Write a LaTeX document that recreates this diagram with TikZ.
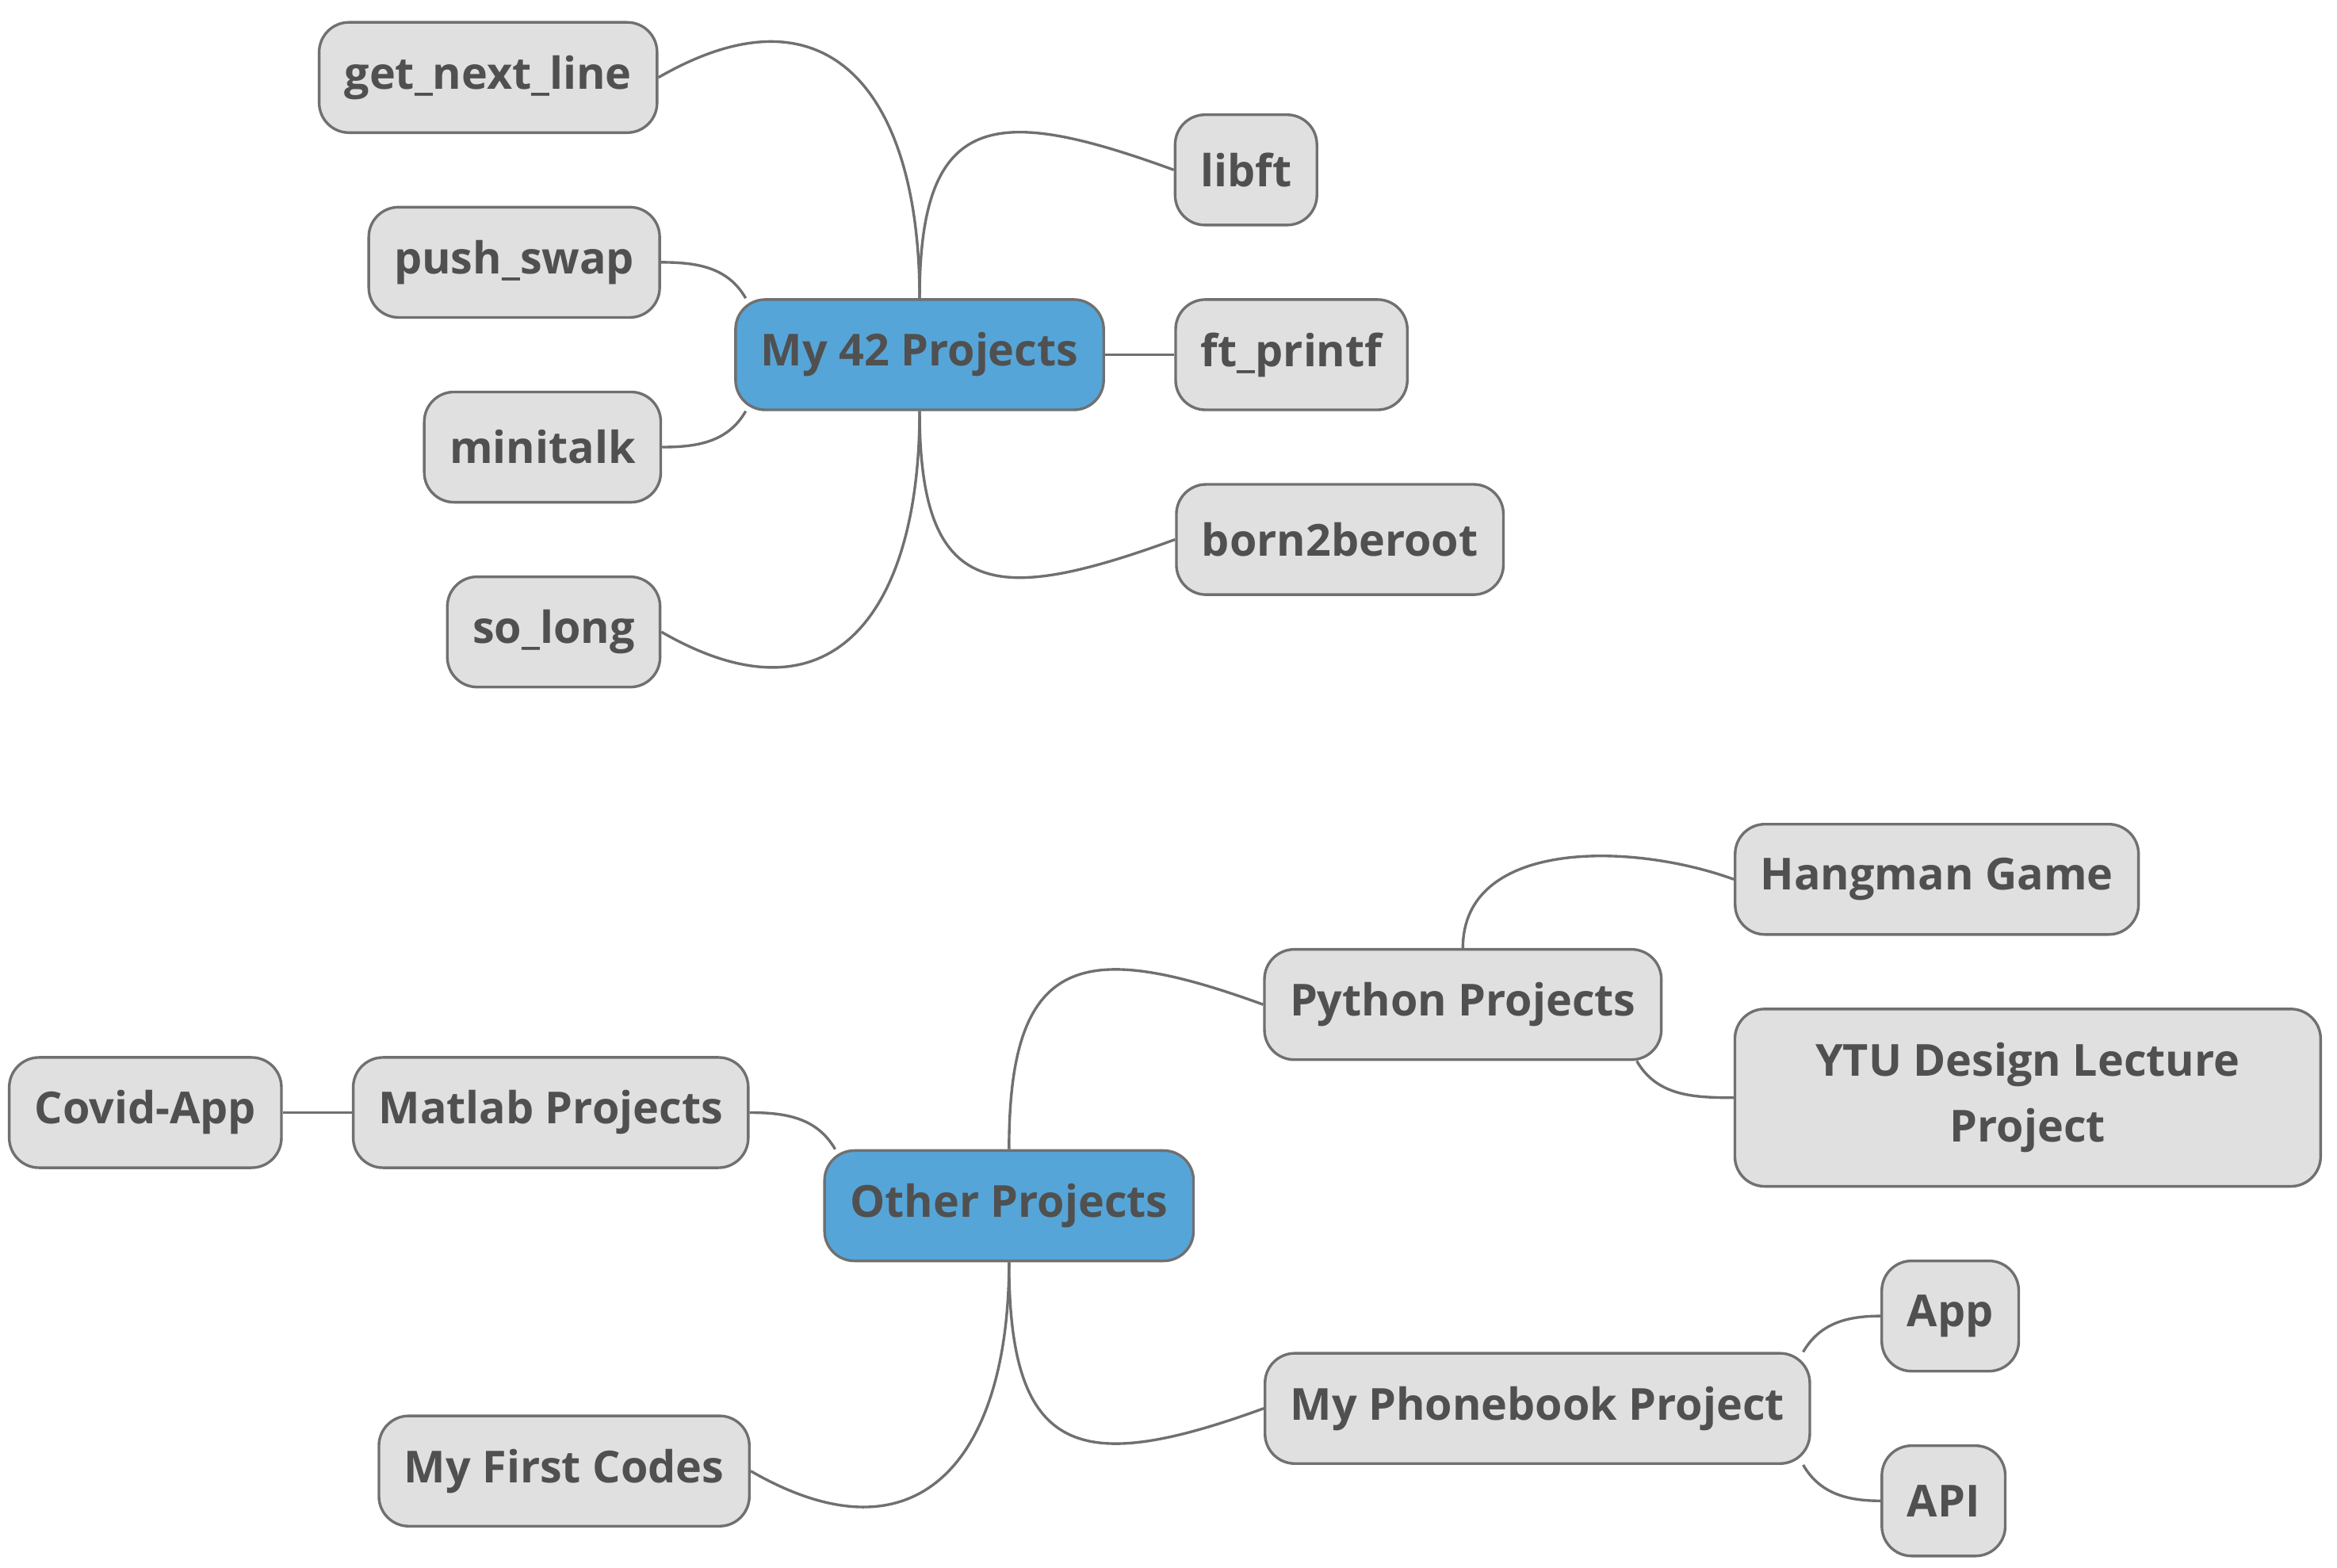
\documentclass[tikz,border=0pt]{standalone}
\usepackage{fontspec}
\setmainfont{Open Sans}
\definecolor{topicblue}{HTML}{56A5D8}
\definecolor{leafgray}{HTML}{E0E0E0}
\definecolor{linegray}{HTML}{707070}
\definecolor{textgray}{HTML}{505050}

\begin{document}
\begin{tikzpicture}[
                    x=0.5pt,
                    y=-0.5pt,
                    every node/.style={font=\fontsize{14.8}{22}\selectfont\bfseries,
                        text=textgray, draw=linegray, line width=0.9pt,
                        rounded corners=10pt, minimum height=37pt,
                        inner xsep=8.5pt, align=center},
                    topic/.style={fill=topicblue},
                    leaf/.style={fill=leafgray},
                    link/.style={draw=linegray, line width=0.9pt}
                ]
                \useasboundingbox (0,0) rectangle (1568,1052);

                % first map
                \node[topic] (m42) at (617,238) {My 42 Projects};
                \node[leaf] (gnl) at (327.5,52) {get\_next\_line};
                \node[leaf] (pushswap) at (345,176) {push\_swap};
                \node[leaf] (minitalk) at (364,300) {minitalk};
                \node[leaf] (solong) at (371.5,424) {so\_long};
                \node[leaf] (libft) at (836,114) {libft};
                \node[leaf] (printf) at (866.5,238) {ft\_printf};
                \node[leaf] (b2br) at (899,362) {born2beroot};

                \path[link]
                (m42.north) edge[out=90, in=30, looseness=1.5] (gnl.east)
                (m42.162) edge[out=120, in=0] (pushswap.east)
                (m42.198) edge[out=-120, in=0] (minitalk.east)
                (m42.south) edge[out=-90, in=-30, looseness=1.5] (solong.east)
                (m42.north) edge[out=90, in=160, looseness=1.7] (libft.west)
                (m42.east) edge (printf.west)
                (m42.south) edge[out=-90, in=200, looseness=1.7] (b2br.west)
                ;

                % second map
                \node[topic] (other) at (677,809) {Other Projects};
                \node[leaf] (matlab) at (369.5,746.5) {Matlab Projects};
                \node[leaf] (covid) at (97.5,746.5) {Covid-App};
                \node[leaf] (first) at (378.5,987) {My First Codes};
                \node[leaf] (python) at (981.5,674) {Python Projects};
                \node[leaf] (hangman) at (1299.5,590) {Hangman Game};
                \node[leaf, minimum height=59.5pt, minimum width=196.5pt] (ytu) at (1360.5,736.5) {YTU Design Lecture\\Project};
                \node[leaf] (phonebook) at (1031.5,945) {My Phonebook Project};
                \node[leaf] (app) at (1308.5,883) {App};
                \node[leaf] (api) at (1304,1007) {API};

                \path[link]
                (other.162) edge[out=120, in=0] (matlab.east)
                (matlab.west) edge (covid.east)
                (other.south) edge[out=-90, in=-30, looseness=1.5] (first.east)
                (other.north) edge[out=90, in=160, looseness=1.7] (python.west)
                (other.south) edge[out=-90, in=200, looseness=1.7] (phonebook.west)
                (python.north) edge[out=90, in=160] (hangman.west)
                (python.-18) edge[out=-60, in=180] (ytu.west)
                (phonebook.12) edge[out=60, in=180] (app.west)
                (phonebook.-12) edge[out=-60, in=180] (api.west)
                ;
            \end{tikzpicture}
\end{document}
